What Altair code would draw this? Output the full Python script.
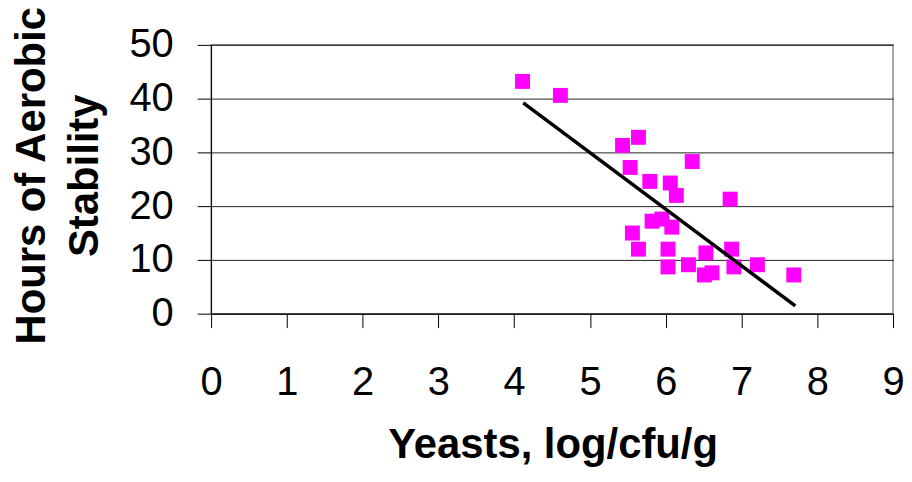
import altair as alt
import pandas as pd

# Scatter data
yeasts = [4.11, 4.61, 5.43, 5.64, 6.35, 5.53, 5.79, 6.06, 6.14, 6.85,
          5.82, 5.95, 6.08, 5.56, 5.64, 6.03, 6.53, 6.87, 6.03, 6.30,
          6.61, 6.51, 6.90, 7.21, 7.69]
hours = [43.2, 40.6, 31.3, 32.8, 28.3, 27.2, 24.6, 24.3, 22.0, 21.3,
         17.2, 17.6, 16.1, 15.0, 12.0, 12.0, 11.3, 12.0, 8.7, 9.1,
         7.6, 7.2, 8.7, 9.1, 7.2]

# Trend line end points
trend_x = [4.12, 7.71]
trend_y = [39.2, 1.45]

x_ticks = [0, 1, 2, 3, 4, 5, 6, 7, 8, 9]
y_ticks = [0, 10, 20, 30, 40, 50]

pts = pd.DataFrame({"x": yeasts, "y": hours})
trend = pd.DataFrame({"x": trend_x, "y": trend_y})

FONT = "Liberation Sans"

xscale = alt.Scale(domain=[0, 9], nice=False, zero=False)
yscale = alt.Scale(domain=[0, 50], nice=False)

xaxis = alt.Axis(
    title="Yeasts, log/cfu/g", values=x_ticks, format="d",
    grid=False, domainColor="#000000", domainWidth=1,
    tickColor="#000000", tickSize=14, tickWidth=1,
    labelFont=FONT, labelFontSize=40, labelColor="#000000",
    labelBaseline="alphabetic", labelPadding=67, labelFlush=False,
    labelOverlap=False,
    titleFont=FONT, titleFontSize=42, titleFontWeight="bold",
    titleColor="#000000", titleBaseline="alphabetic",
    titleX=343, titleY=144, titleAlign="center", titleAnchor="middle",
)
yaxis = alt.Axis(
    title=["Hours of Aerobic", "Stability"], values=y_ticks, format="d",
    grid=True, gridColor="#222222", gridWidth=1, gridOpacity=1,
    domainColor="#000000", domainWidth=1,
    tickColor="#000000", tickSize=14, tickWidth=1,
    labelFont=FONT, labelFontSize=40, labelColor="#000000",
    labelPadding=24, labelBaseline="middle", labelFlush=False,
    labelOverlap=False,
    titleFont=FONT, titleFontSize=42, titleFontWeight="bold",
    titleColor="#000000", titleAngle=-90, titleLineHeight=53,
    titleBaseline="middle", titleAlign="center",
    titleX=-180, titleY=131,
)

points = alt.Chart(pts).mark_point(
    shape="square", filled=True, size=225, color="#FF00FF", opacity=1
).encode(
    x=alt.X("x:Q", scale=xscale, axis=xaxis),
    y=alt.Y("y:Q", scale=yscale, axis=yaxis),
)

line = alt.Chart(trend).mark_line(color="#000000", strokeWidth=3.5).encode(
    x=alt.X("x:Q", scale=xscale),
    y=alt.Y("y:Q", scale=yscale),
)

chart = alt.layer(points, line).properties(
    width=685, height=270,
    autosize=alt.AutoSizeParams(type="none"),
    padding={"left": 204, "top": 36, "right": 11, "bottom": 154},
    background="#ffffff",
).configure_view(stroke="#888888", strokeWidth=1.5)

chart.save("out.html", embed_options={"renderer": "svg", "actions": False})
